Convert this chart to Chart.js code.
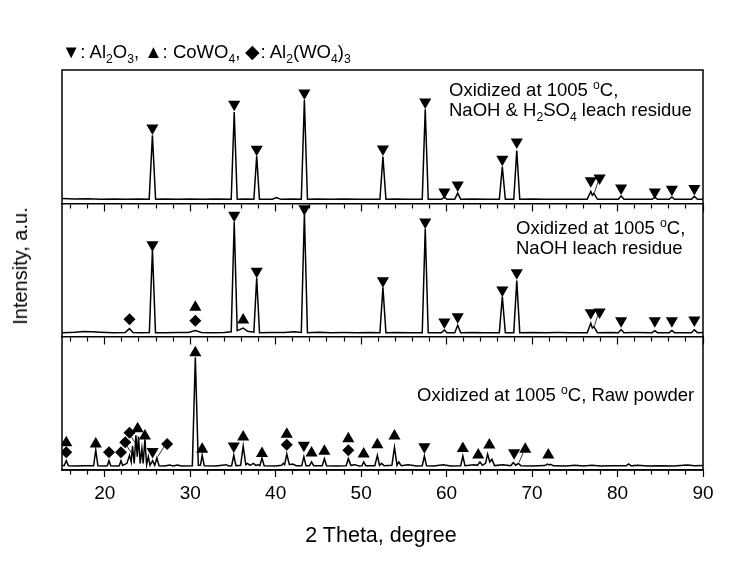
<!DOCTYPE html>
<html>
<head>
<meta charset="utf-8">
<script src="https://cdn.jsdelivr.net/npm/chart.js@4.4.1/dist/chart.umd.min.js"></script>
<style>
  body { margin: 0; background: #fff; }
  #wrap { position: relative; width: 736px; height: 574px; font-family: "Liberation Sans", Arial, sans-serif; color: #000; }
  #wrap canvas { position: absolute; left: 0; top: 0; }
  .txt { position: absolute; white-space: nowrap; font-size: 18.5px; line-height: 20px; }
  sub, sup { font-size: 0.66em; line-height: 0; }
  #legend { left: 62px; top: 42px; font-size: 18.5px; }
  #lab1 { left: 449px; top: 80px; }
  #lab2 { left: 516px; top: 218px; }
  #lab3 { left: 417px; top: 385px; }
  #ytitle { left: 20px; top: 266px; font-size: 20px; transform: translate(-50%, -50%) rotate(-90deg); }
  #xtitle { left: 381px; top: 535px; font-size: 21.5px; transform: translate(-50%, -50%); }
</style>
</head>
<body>
<div id="wrap">
  <canvas id="xrdChart" width="736" height="574"></canvas>
  <div class="txt" id="legend">&#9660;: Al<sub>2</sub>O<sub>3</sub>, &#9650;: CoWO<sub>4</sub>, &#9670;: Al<sub>2</sub>(WO<sub>4</sub>)<sub>3</sub></div>
  <div class="txt" id="lab1">Oxidized at 1005 <sup>o</sup>C,<br>NaOH &amp; H<sub>2</sub>SO<sub>4</sub> leach residue</div>
  <div class="txt" id="lab2">Oxidized at 1005 <sup>o</sup>C,<br>NaOH leach residue</div>
  <div class="txt" id="lab3">Oxidized at 1005 <sup>o</sup>C, Raw powder</div>
  <div class="txt" id="ytitle">Intensity, a.u.</div>
  <div class="txt" id="xtitle">2 Theta, degree</div>
</div>
<script>
// top pattern: NaOH & H2SO4 leach residue
const topTheta = [
  15, 16.5, 18, 19.5, 21, 22.5, 24, 25.2, 25.58, 25.95,
  27, 28.5, 30, 31.5, 33, 34.8, 35.15, 35.5,
  36.5, 37.45, 37.78, 38.1, 39.6, 40.1, 40.6,
  42, 43.0, 43.36, 43.72, 45, 46.5, 48, 49.5, 51,
  52.2, 52.55, 52.9, 54, 55.5, 57.15, 57.5, 57.85,
  59.4, 59.74, 60.05, 60.95, 61.3, 61.65, 63, 64.5,
  66.17, 66.52, 66.87, 67.86, 68.21, 68.56, 70, 71.5, 73, 74.5,
  76.45, 76.87, 77.05, 77.23, 77.65, 79, 80.1, 80.42, 80.75,
  82, 84.05, 84.36, 84.67, 86.05, 86.36, 86.67, 88.65, 88.99, 89.35, 90
];
const topCounts = [
  3.6, 3.3, 3.4, 3.1, 3.3, 3.1, 3.2, 3.0, 51, 3.0,
  3.2, 3.0, 3.2, 3.0, 3.2, 3.0, 68.5, 3.0,
  3.2, 3.0, 35.5, 3.0, 3.1, 4.4, 3.0,
  3.2, 3.0, 77.5, 3.0, 3.2, 3.0, 3.2, 3.0, 3.1,
  3.0, 35, 3.0, 3.2, 3.0, 3.0, 70.5, 3.0,
  3.0, 4.6, 3.0, 3.0, 7.7, 3.0, 3.2, 3.0,
  3.0, 27.5, 3.0, 3.0, 39.5, 3.0, 3.2, 3.0, 3.1, 3.0,
  3.0, 9, 6, 7.5, 3.0, 3.1, 3.0, 5.5, 3.0,
  3.1, 3.0, 4.6, 3.0, 3.0, 4.8, 3.0, 3.0, 5.2, 3.0, 3.1
];
const topAl2O3Theta = [25.58, 35.15, 37.78, 43.36, 52.55, 57.5, 59.74, 61.3, 66.52, 68.21, 76.87, 77.9, 80.42, 84.36, 86.36, 88.99];
const topAl2O3Y = [56.5, 74.4, 40.5, 82.7, 40.7, 76, 8.5, 13.7, 33, 46, 17, 19, 11.5, 8.5, 10.5, 11.2];
const topLeaderTheta = [77.7, 77.3];
const topLeaderY = [16, 8];

// middle pattern: NaOH leach residue
const midTheta = [
  15, 16.5, 17.5, 18.5, 19.5, 21, 22.4, 22.9, 23.3, 24.2, 25.22, 25.58, 25.94,
  27, 28.5, 29.8, 30.6, 31.3, 32.5, 34, 34.8, 35.15, 35.5, 36.2, 36.7, 37.45, 37.78, 38.11,
  39.5, 41, 42.2, 43.0, 43.36, 43.72, 45, 46.5, 48, 49.5, 51,
  52.2, 52.55, 52.9, 54, 55.5, 57.15, 57.5, 57.85,
  59.4, 59.74, 60.05, 60.95, 61.3, 61.65, 63, 64.5,
  66.17, 66.52, 66.87, 67.86, 68.21, 68.56, 70, 71.5, 73, 74.5,
  76.45, 76.87, 77.05, 77.23, 77.65, 79, 80.1, 80.42, 80.75,
  82, 84.05, 84.36, 84.67, 86.05, 86.36, 86.67, 88.65, 88.99, 89.35, 90
];
const midCounts = [
  3.0, 3.3, 3.8, 3.6, 3.3, 3.0, 3.2, 6.0, 3.2, 3.0, 3.1, 65, 3.0,
  3.0, 3.1, 3.2, 4.6, 3.2, 3.0, 3.2, 3.6, 86, 4.5, 6.5, 4.0, 3.4, 44, 3.0,
  3.1, 3.2, 3.6, 3.2, 92.5, 3.0, 3.4, 3.0, 3.1, 3.0, 3.1,
  3.0, 37, 3.0, 3.2, 3.0, 3.0, 81, 3.0,
  3.0, 5.0, 3.0, 3.0, 8.5, 3.0, 3.2, 3.0,
  3.0, 30, 3.0, 3.0, 42, 3.0, 3.2, 3.0, 3.1, 3.0,
  3.0, 10, 6.5, 7.5, 3.0, 3.1, 3.0, 5.3, 3.0,
  3.1, 3.0, 4.5, 3.0, 3.0, 4.6, 3.0, 3.0, 5.2, 3.0, 3.1
];
const midAl2O3Theta = [25.58, 35.15, 37.78, 43.36, 52.55, 57.5, 59.74, 61.3, 66.52, 68.21, 76.87, 77.9, 80.42, 84.36, 86.36, 88.99];
const midAl2O3Y = [69, 91, 49, 96, 42, 86, 11, 15, 35, 48, 18, 18.5, 12, 12, 12, 12.5];
const midCoWO4Theta = [30.6, 36.2];
const midCoWO4Y = [22, 12.5];
const midAlWO4Theta = [22.9, 30.6];
const midAlWO4Y = [13, 12];
const midLeaderTheta = [77.7, 77.3];
const midLeaderY = [16.5, 8];

// bottom pattern: raw oxidized powder
const rawTheta = [
  15, 15.25, 15.5, 15.75, 16.5, 17.5, 18.7, 18.95, 19.2, 20.0, 20.3, 20.5, 20.7, 21.5, 21.7, 21.9, 22.1,
  22.6, 22.9, 23.1, 23.25, 23.45, 23.65, 23.8, 23.95, 24.15, 24.35, 24.5, 24.7, 24.9, 25.1, 25.3, 25.6, 25.85, 26.1, 26.35,
  27.0, 27.6, 28.0, 28.5, 29.0, 30.25, 30.6, 30.95, 31.2, 31.4, 31.65, 33, 34.2, 34.5, 34.85, 35.1, 35.35,
  35.9, 36.2, 36.5, 36.7, 37.0, 37.4, 37.7, 37.9, 38.15, 38.4, 38.65, 40, 40.7, 40.9, 41.05, 41.3, 41.6, 42.0, 42.4,
  43.05, 43.3, 43.55, 43.95, 44.2, 44.45, 45.45, 45.7, 45.95, 47, 48.25, 48.5, 48.8, 49.3, 49.7, 50.1, 50.3, 50.55,
  51.6, 51.9, 52.15, 52.4, 52.7, 53.6, 53.9, 54.2, 54.4, 54.7, 55.5, 56.5, 57.15, 57.4, 57.65, 58.5, 59.6, 60.5,
  61.65, 61.9, 62.15, 63.2, 63.6, 63.9, 64.2, 64.55, 64.8, 65.05, 65.3, 65.6, 66.6, 67.5, 67.8, 68.1, 68.4, 68.7,
  70, 71.5, 71.8, 72.0, 72.2, 72.5, 74, 75, 76, 77, 78, 79.5, 81, 81.3, 81.6, 82.4, 83.5, 85, 86.5, 88.2, 89, 90
];
const rawCounts = [
  3.5, 3.2, 7, 3.2, 3.0, 3.1, 3.2, 15, 3.2, 3.0, 3.2, 7, 3.2, 3.0, 3.2, 7, 3.4,
  5, 11, 6, 18, 5, 26, 10, 25, 5, 16, 5, 23, 4, 10, 3.5, 7, 3.5, 9, 3.2,
  3.0, 3.8, 3.0, 3.8, 3.0, 3.2, 84.5, 3.5, 3.5, 11, 3.2, 3.0, 4, 3.0, 3.2, 11, 3.2,
  3.5, 18, 4, 5, 3.5, 5, 3.3, 4, 3.3, 9, 3.2, 3.0, 3.5, 5, 4, 12, 4, 4.5, 3.2,
  3.2, 10, 3.2, 3.2, 6, 3.2, 3.2, 8.5, 3.2, 3.0, 3.2, 8.5, 3.5, 4, 3.0, 3.2, 6, 3.2,
  3.2, 11, 3.5, 5, 3.2, 3.5, 17, 3.5, 6, 3.2, 4, 3.0, 3.2, 10.5, 3.2, 3.0, 4, 3.0,
  3.2, 10.5, 3.2, 4, 3.5, 6, 3.5, 5, 12, 6, 8, 3.3, 4, 3.2, 5.5, 3.5, 5, 3.2,
  3.0, 3.3, 4.5, 3.8, 4.2, 3.1, 3.0, 3.6, 3.0, 3.6, 3.0, 3.2, 3.1, 4.6, 3.1, 3.6, 3.0, 3.2, 3.0, 3.8, 3.1, 3.3
];
const rawAl2O3Theta = [25.6, 35.1, 43.3, 57.4, 67.9];
const rawAl2O3Y = [13.8, 18, 18.5, 17.5, 13];
const rawCoWO4Theta = [15.5, 18.95, 23.85, 24.7, 30.6, 31.4, 36.2, 38.4, 41.3, 44.2, 45.7, 48.5, 50.3, 51.9, 53.9, 61.9, 63.7, 65.0, 69.2, 71.9];
const rawCoWO4Y = [20.5, 19.5, 31, 25.5, 88, 15.5, 24.8, 12.3, 26.8, 12.8, 14, 23.5, 12, 19, 25.5, 16.2, 11.2, 18.7, 15.5, 11.2];
const rawAlWO4Theta = [15.5, 20.5, 21.9, 22.4, 22.9, 27.3, 41.3, 48.5];
const rawAlWO4Y = [13.3, 13.3, 13.3, 20.8, 28, 19.5, 19, 14.8];
const rawLeaderTheta = [22.55, 23.2, null, 23.05, 23.6, null, 27.0, 26.2, null, 68.95, 68.5];
const rawLeaderY = [18.5, 12, null, 25.5, 20, null, 18, 10, null, 13, 6];

const xMin = 15, xMax = 90, xStep = 2;
const ink = '#000';
const family = '"Liberation Sans", Arial, sans-serif';

function pts(xs, ys) {
    return xs.map((x, i) => ({ x: x, y: ys[i] }));
}

function pattern(xs, ys, axis) {
    return { data: pts(xs, ys), yAxisID: axis, showLine: true, borderColor: ink, borderWidth: 1.5, pointRadius: 0, tension: 0 };
}

function leader(xs, ys, axis) {
    return { data: pts(xs, ys), yAxisID: axis, showLine: true, spanGaps: false, borderColor: ink, borderWidth: 0.8, pointRadius: 0 };
}

function marker(xs, ys, axis, style) {
    const down = style === 'down';
    const diamond = style === 'diamond';
    return {
        data: pts(xs, ys), yAxisID: axis, showLine: false,
        pointStyle: diamond ? 'rectRot' : 'triangle',
        rotation: down ? 180 : 0,
        pointRadius: diamond ? 6 : 7,
        backgroundColor: ink, borderColor: ink, borderWidth: 0
    };
}

function tickDash(ctx) {
    // long ticks every 10 degrees, short ones between
    if (!ctx.tick) return [];
    return ctx.tick.value % 10 === 0 ? [] : [4, 20];
}

function dividerAxis(yId) {
    const pos = {};
    pos[yId] = 0;
    return {
        type: 'linear', axis: 'x', position: pos, min: xMin, max: xMax,
        ticks: { display: false, stepSize: xStep, includeBounds: false, autoSkip: false },
        grid: { drawOnChartArea: false, tickLength: 7, tickColor: ink, tickWidth: 1.2, tickBorderDash: tickDash },
        border: { display: true, color: ink, width: 1.5 }
    };
}

function panelAxis(weight) {
    return {
        type: 'linear', axis: 'y', position: 'left', stack: 'xrd', stackWeight: 1, weight: weight,
        min: 0, max: 100, offset: false,
        ticks: { display: false },
        grid: { display: false, drawTicks: false },
        border: { display: false }
    };
}

const framePlugin = {
    id: 'frame',
    afterDatasetsDraw(chart) {
        const { ctx, chartArea: a } = chart;
        ctx.save();
        ctx.strokeStyle = ink;
        ctx.lineWidth = 1.5;
        ctx.strokeRect(a.left, a.top, a.right - a.left, a.bottom - a.top);
        ctx.restore();
    }
};

new Chart(document.getElementById('xrdChart'), {
    type: 'scatter',
    data: {
        datasets: [
            pattern(topTheta, topCounts, 'yTop'),
            marker(topAl2O3Theta, topAl2O3Y, 'yTop', 'down'),
            leader(topLeaderTheta, topLeaderY, 'yTop'),
            pattern(midTheta, midCounts, 'yMid'),
            marker(midAl2O3Theta, midAl2O3Y, 'yMid', 'down'),
            marker(midCoWO4Theta, midCoWO4Y, 'yMid', 'up'),
            marker(midAlWO4Theta, midAlWO4Y, 'yMid', 'diamond'),
            leader(midLeaderTheta, midLeaderY, 'yMid'),
            pattern(rawTheta, rawCounts, 'yRaw'),
            marker(rawAl2O3Theta, rawAl2O3Y, 'yRaw', 'down'),
            marker(rawCoWO4Theta, rawCoWO4Y, 'yRaw', 'up'),
            marker(rawAlWO4Theta, rawAlWO4Y, 'yRaw', 'diamond'),
            leader(rawLeaderTheta, rawLeaderY, 'yRaw')
        ]
    },
    options: {
        responsive: false,
        animation: false,
        layout: { padding: { left: 62, right: 33, top: 70, bottom: 0 } },
        plugins: { legend: { display: false }, tooltip: { enabled: false } },
        scales: {
            x: {
                type: 'linear', position: 'bottom', min: xMin, max: xMax,
                afterFit: s => { s.height = 104; },
                ticks: {
                    stepSize: xStep, includeBounds: false, autoSkip: false, maxRotation: 0, padding: 5,
                    color: ink, font: { size: 19, family: family },
                    callback: v => (v % 10 === 0 ? String(v) : '')
                },
                grid: { drawOnChartArea: false, tickLength: 7, tickColor: ink, tickWidth: 1.2, tickBorderDash: tickDash },
                border: { display: true, color: ink, width: 1.5 }
            },
            xTopDiv: dividerAxis('yTop'),
            xMidDiv: dividerAxis('yMid'),
            yTop: panelAxis(3),
            yMid: panelAxis(2),
            yRaw: panelAxis(1)
        }
    },
    plugins: [framePlugin]
});
</script>
</body>
</html>
